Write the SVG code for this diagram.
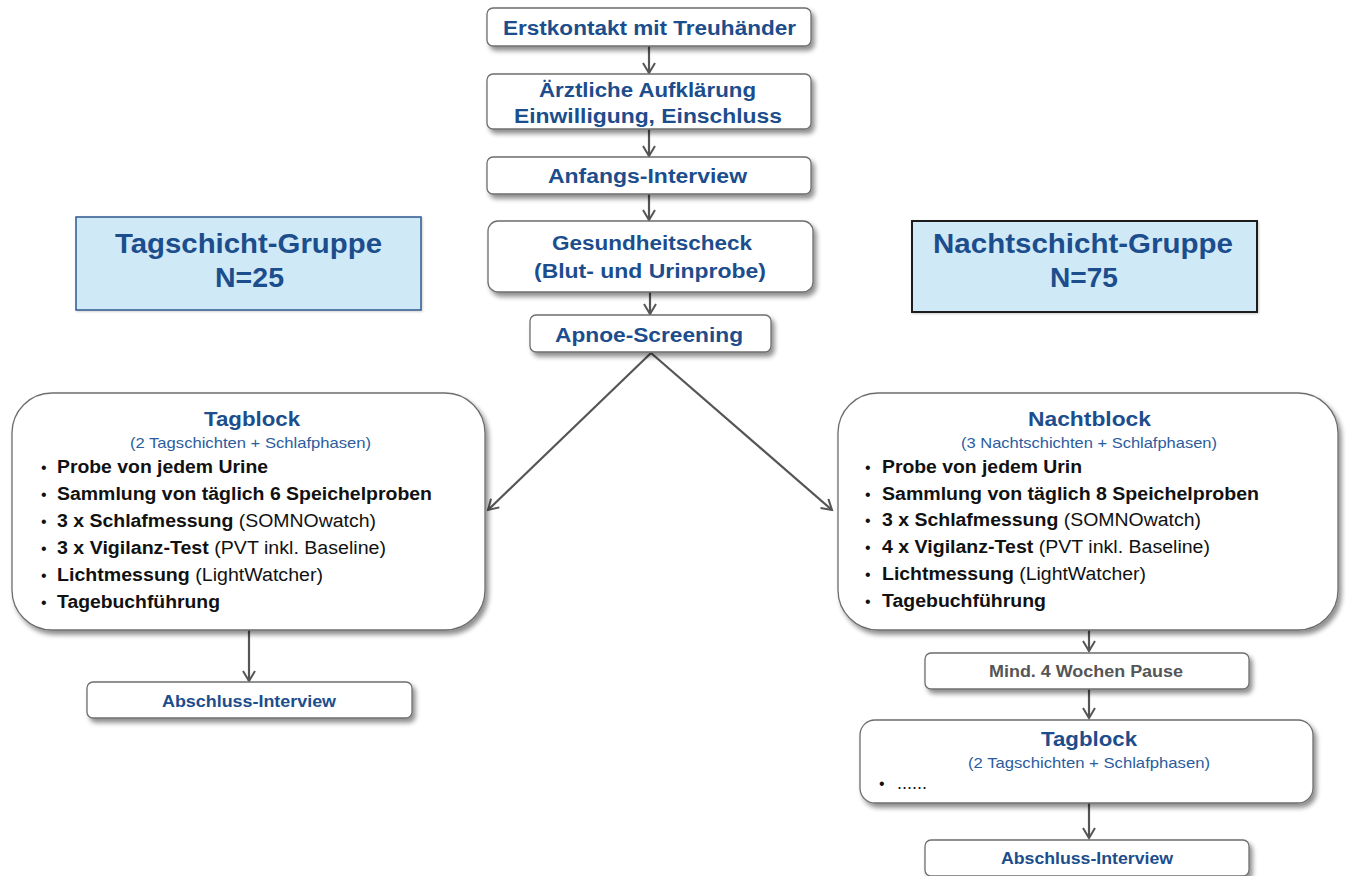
<svg xmlns="http://www.w3.org/2000/svg" width="1346" height="876" viewBox="0 0 1346 876">
<style>
.box{fill:#fff;stroke:#6e6e6e;stroke-width:1.3;filter:url(#sh)}
.grp{fill:#cfe9f7;filter:url(#sh2)}
.t{font-family:"Liberation Sans",Arial,sans-serif;font-weight:bold;fill:#1c4d8c;text-anchor:middle}
.sub{font-family:"Liberation Sans",Arial,sans-serif;font-size:15px;fill:#2b5c9e;text-anchor:middle}
.b{font-family:"Liberation Sans",Arial,sans-serif;font-size:18px;fill:#111}
.bb{font-weight:bold}
.dot{font-family:"Liberation Sans",Arial,sans-serif;font-size:16px;fill:#111}
.con{stroke:#555;stroke-width:2.2;fill:none;marker-end:url(#ah)}
</style>
<defs>
<filter id="sh" x="-10%" y="-20%" width="125%" height="150%">
<feGaussianBlur in="SourceAlpha" stdDeviation="2.5"/>
<feOffset dx="3" dy="4" result="o"/>
<feComponentTransfer><feFuncA type="linear" slope="0.45"/></feComponentTransfer>
<feMerge><feMergeNode/><feMergeNode in="SourceGraphic"/></feMerge>
</filter>
<filter id="sh2" x="-5%" y="-10%" width="110%" height="120%">
<feGaussianBlur in="SourceAlpha" stdDeviation="1"/>
<feOffset dx="1" dy="1" result="o"/>
<feComponentTransfer><feFuncA type="linear" slope="0.2"/></feComponentTransfer>
<feMerge><feMergeNode/><feMergeNode in="SourceGraphic"/></feMerge>
</filter>
<marker id="ah" markerWidth="14" markerHeight="14" refX="11" refY="7" orient="auto" markerUnits="userSpaceOnUse">
<path d="M1,1 L11,7 L1,13" fill="none" stroke="#555" stroke-width="2"/>
</marker>
</defs>

<g id="connectors">
<line class="con" x1="649" y1="46" x2="649" y2="73"/>
<line class="con" x1="649" y1="129" x2="649" y2="156"/>
<line class="con" x1="649" y1="194" x2="649" y2="220"/>
<line class="con" x1="650" y1="292" x2="650" y2="314"/>
<line class="con" x1="651" y1="353" x2="488" y2="510"/>
<line class="con" x1="651" y1="353" x2="832" y2="510"/>
<line class="con" x1="249" y1="630" x2="249" y2="681"/>
<line class="con" x1="1089" y1="630" x2="1089" y2="651"/>
<line class="con" x1="1089" y1="689" x2="1089" y2="718"/>
<line class="con" x1="1089" y1="803" x2="1089" y2="838"/>
</g>

<g id="erstkontakt">
<rect class="box" x="487" y="8" width="324" height="38" rx="6"/>
<text class="t" x="649.5" y="35" font-size="20" textLength="293" lengthAdjust="spacingAndGlyphs">Erstkontakt mit Treuhänder</text>
</g>
<g id="aufklaerung">
<rect class="box" x="487" y="74" width="324" height="55" rx="6"/>
<text class="t" x="647.5" y="97" font-size="20" textLength="217" lengthAdjust="spacingAndGlyphs">Ärztliche Aufklärung</text>
<text class="t" x="648" y="123" font-size="20" textLength="268" lengthAdjust="spacingAndGlyphs">Einwilligung, Einschluss</text>
</g>
<g id="anfangs">
<rect class="box" x="487" y="157" width="324" height="37" rx="6"/>
<text class="t" x="647.5" y="183" font-size="20" textLength="199" lengthAdjust="spacingAndGlyphs">Anfangs-Interview</text>
</g>
<g id="gesundheitscheck">
<rect class="box" x="488" y="221" width="325" height="71" rx="10"/>
<text class="t" x="652" y="250" font-size="20" textLength="200" lengthAdjust="spacingAndGlyphs">Gesundheitscheck</text>
<text class="t" x="650" y="278" font-size="20" textLength="232" lengthAdjust="spacingAndGlyphs">(Blut- und Urinprobe)</text>
</g>
<g id="apnoe">
<rect class="box" x="530" y="315" width="241" height="37" rx="6"/>
<text class="t" x="649" y="342" font-size="20" textLength="188" lengthAdjust="spacingAndGlyphs">Apnoe-Screening</text>
</g>

<g id="tagschicht-gruppe">
<rect class="grp" x="76" y="217" width="345" height="93" stroke="#2f5a8e" stroke-width="1.5"/>
<text class="t" x="248.5" y="253" font-size="28" textLength="267" lengthAdjust="spacingAndGlyphs">Tagschicht-Gruppe</text>
<text class="t" x="249.5" y="287" font-size="28" textLength="69" lengthAdjust="spacingAndGlyphs">N=25</text>
</g>
<g id="nachtschicht-gruppe">
<rect class="grp" x="912" y="221" width="345" height="91" stroke="#1a1a1a" stroke-width="2"/>
<text class="t" x="1083" y="253" font-size="28" textLength="300" lengthAdjust="spacingAndGlyphs">Nachtschicht-Gruppe</text>
<text class="t" x="1084" y="287" font-size="28" textLength="68" lengthAdjust="spacingAndGlyphs">N=75</text>
</g>

<g id="tagblock">
<rect class="box" x="12" y="393" width="473" height="237" rx="40"/>
<text class="t" x="252" y="426" font-size="21" textLength="96" lengthAdjust="spacingAndGlyphs">Tagblock</text>
<text class="sub" x="250.5" y="448" textLength="241" lengthAdjust="spacingAndGlyphs">(2 Tagschichten + Schlafphasen)</text>
<text class="dot" x="41" y="473">•</text>
<text class="dot" x="41" y="500">•</text>
<text class="dot" x="41" y="527">•</text>
<text class="dot" x="41" y="554">•</text>
<text class="dot" x="41" y="581">•</text>
<text class="dot" x="41" y="608">•</text>
<text class="b bb" x="57" y="473" textLength="211" lengthAdjust="spacingAndGlyphs">Probe von jedem Urine</text>
<text class="b bb" x="57" y="500" textLength="375" lengthAdjust="spacingAndGlyphs">Sammlung von täglich  6 Speichelproben</text>
<text class="b" x="57" y="527" textLength="319" lengthAdjust="spacingAndGlyphs"><tspan class="bb">3 x Schlafmessung</tspan> (SOMNOwatch)</text>
<text class="b" x="57" y="554" textLength="329" lengthAdjust="spacingAndGlyphs"><tspan class="bb">3 x Vigilanz-Test</tspan>  (PVT inkl. Baseline)</text>
<text class="b" x="57" y="581" textLength="266" lengthAdjust="spacingAndGlyphs"><tspan class="bb">Lichtmessung</tspan> (LightWatcher)</text>
<text class="b bb" x="57" y="608" textLength="163" lengthAdjust="spacingAndGlyphs">Tagebuchführung</text>
</g>

<g id="nachtblock">
<rect class="box" x="838" y="393" width="500" height="237" rx="40"/>
<text class="t" x="1089.5" y="426" font-size="21" textLength="123" lengthAdjust="spacingAndGlyphs">Nachtblock</text>
<text class="sub" x="1089" y="448" textLength="256" lengthAdjust="spacingAndGlyphs">(3 Nachtschichten + Schlafphasen)</text>
<text class="dot" x="865" y="473">•</text>
<text class="dot" x="865" y="500">•</text>
<text class="dot" x="865" y="526">•</text>
<text class="dot" x="865" y="553">•</text>
<text class="dot" x="865" y="580">•</text>
<text class="dot" x="865" y="607">•</text>
<text class="b bb" x="882" y="473" textLength="200" lengthAdjust="spacingAndGlyphs">Probe von jedem Urin</text>
<text class="b bb" x="882" y="500" textLength="377" lengthAdjust="spacingAndGlyphs">Sammlung von täglich 8 Speichelproben</text>
<text class="b" x="882" y="526" textLength="319" lengthAdjust="spacingAndGlyphs"><tspan class="bb">3 x Schlafmessung</tspan> (SOMNOwatch)</text>
<text class="b" x="882" y="553" textLength="328" lengthAdjust="spacingAndGlyphs"><tspan class="bb">4 x Vigilanz-Test</tspan>  (PVT inkl. Baseline)</text>
<text class="b" x="882" y="580" textLength="264" lengthAdjust="spacingAndGlyphs"><tspan class="bb">Lichtmessung</tspan> (LightWatcher)</text>
<text class="b bb" x="882" y="607" textLength="164" lengthAdjust="spacingAndGlyphs">Tagebuchführung</text>
</g>

<g id="abschluss-links">
<rect class="box" x="87" y="682" width="325" height="36" rx="6"/>
<text class="t" x="249" y="707" font-size="16" textLength="174" lengthAdjust="spacingAndGlyphs">Abschluss-Interview</text>
</g>

<g id="pause">
<rect class="box" x="925" y="653" width="324" height="36" rx="6"/>
<text class="t" x="1086" y="677" font-size="16" fill="#555" style="fill:#555" textLength="194" lengthAdjust="spacingAndGlyphs">Mind. 4 Wochen Pause</text>
</g>

<g id="tagblock-2">
<rect class="box" x="860" y="720" width="453" height="83" rx="15"/>
<text class="t" x="1089" y="746" font-size="21" textLength="96" lengthAdjust="spacingAndGlyphs">Tagblock</text>
<text class="sub" x="1089" y="768" textLength="242" lengthAdjust="spacingAndGlyphs">(2 Tagschichten + Schlafphasen)</text>
<text class="dot" x="879" y="789">•</text>
<text class="b" x="897" y="789" font-size="16">......</text>
</g>

<g id="abschluss-rechts">
<rect class="box" x="925" y="840" width="324" height="36" rx="6"/>
<text class="t" x="1087" y="864" font-size="16" textLength="172" lengthAdjust="spacingAndGlyphs">Abschluss-Interview</text>
</g>
</svg>
